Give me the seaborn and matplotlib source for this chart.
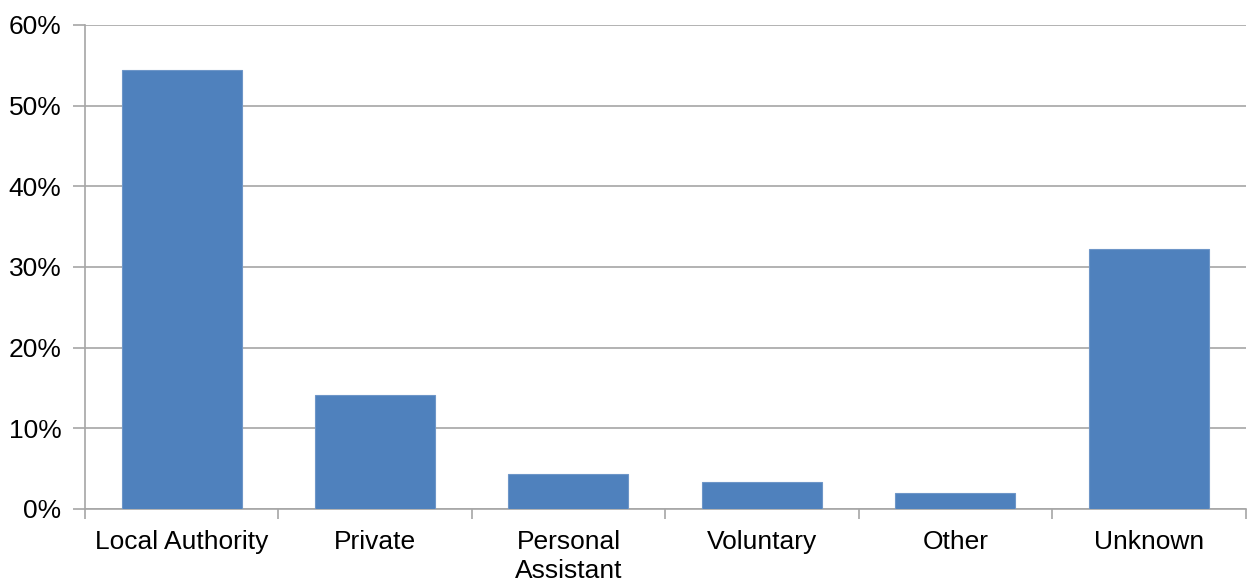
import matplotlib
matplotlib.use("Agg")
import matplotlib.pyplot as plt
import seaborn as sns
import pandas as pd
from matplotlib.ticker import FuncFormatter, MultipleLocator, FixedLocator

categories = ["Local Authority", "Private", "Personal\nAssistant", "Voluntary", "Other", "Unknown"]
values = [54.4, 14.1, 4.3, 3.4, 1.95, 32.2]

sns.set_theme(style="white")
plt.rcParams['font.family'] = ['Liberation Sans', 'DejaVu Sans']

df = pd.DataFrame({"cat": categories, "val": values})

fig = plt.figure(figsize=(12.48, 5.81), dpi=100)
ax = fig.add_axes([0.068, 0.124, 0.93, 0.833])

sns.barplot(data=df, x="cat", y="val", color="#4F81BD", saturation=1, width=0.62,
            edgecolor="#6E96C8", linewidth=0.8, ax=ax, zorder=3)

ax.set_ylim(0, 60)
ax.set_xlim(-0.5, 5.5)
ax.yaxis.set_major_locator(MultipleLocator(10))
ax.yaxis.set_major_formatter(FuncFormatter(lambda v, p: f"{int(v)}%"))
ax.grid(axis="y", color="#A6A6A6", linewidth=1.2, zorder=0)
ax.set_axisbelow(True)
ax.set_xlabel("")
ax.set_ylabel("")

for s in ["top", "right"]:
    ax.spines[s].set_visible(False)
for s in ["left", "bottom"]:
    ax.spines[s].set_color("#A6A6A6")
    ax.spines[s].set_linewidth(1.2)

ax.xaxis.set_minor_locator(FixedLocator([i - 0.5 for i in range(len(categories) + 1)]))
ax.tick_params(axis="x", which="major", length=0, labelsize=19, colors="black", pad=15)
ax.tick_params(axis="x", which="minor", length=7, width=1.2, color="#A6A6A6", direction="out", bottom=True)
ax.tick_params(axis="y", which="major", length=9, width=1.2, color="#A6A6A6", direction="out", left=True,
               labelsize=19, labelcolor="black", pad=8)
for lbl in ax.get_xticklabels():
    lbl.set_linespacing(1.25)
    lbl.set_va("top")

fig.savefig("out.png", dpi=100, facecolor="white")
